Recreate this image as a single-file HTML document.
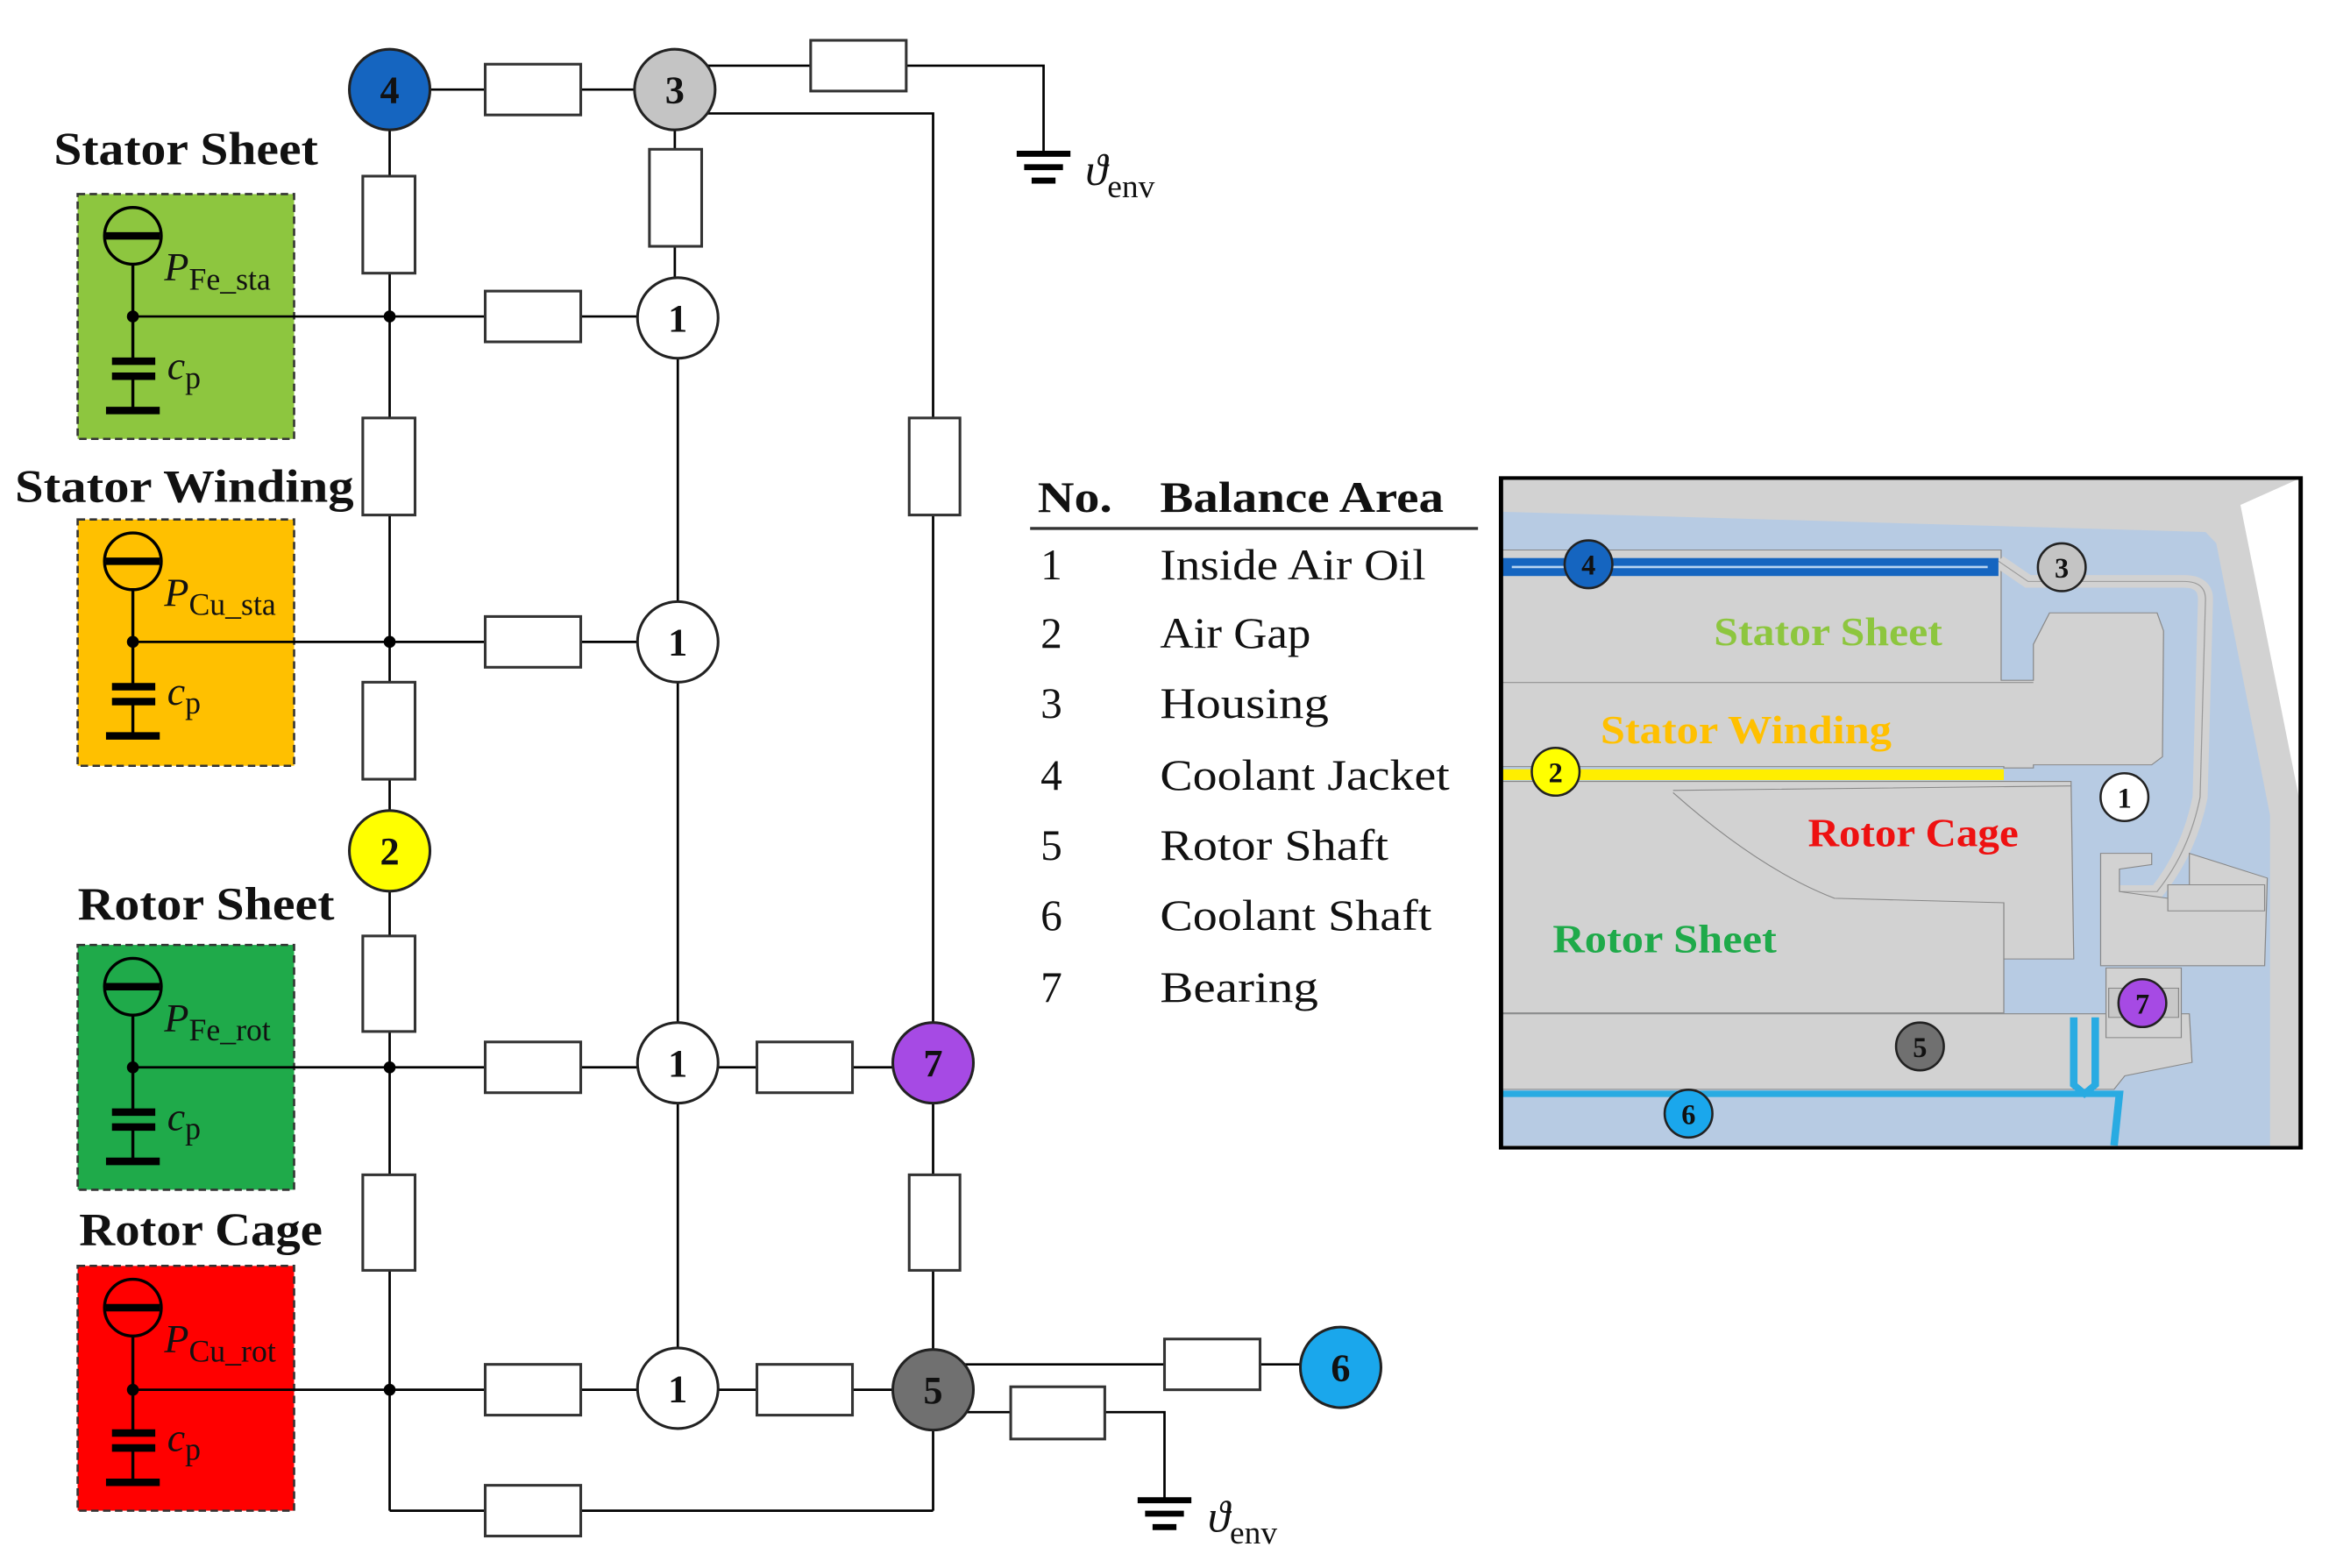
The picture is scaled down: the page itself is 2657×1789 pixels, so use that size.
<!DOCTYPE html>
<html><head><meta charset="utf-8"><style>
html,body{margin:0;padding:0;background:#fff;}
svg{display:block;}
text{font-family:"Liberation Serif",serif;}
</style></head><body>
<svg width="2657" height="1789" viewBox="0 0 1560 1050.4" preserveAspectRatio="none" xmlns="http://www.w3.org/2000/svg">
<rect x="0" y="0" width="1560" height="1051" fill="#fff"/>

<g stroke="#333" stroke-width="1.5" stroke-dasharray="5,3">
<rect x="52" y="130" width="145" height="164" fill="#8dc63f"/>
<rect x="52" y="348" width="145" height="165" fill="#ffc000"/>
<rect x="52" y="633" width="145" height="164" fill="#1faa4a"/>
<rect x="52" y="848" width="145" height="164" fill="#ff0000"/>
</g>

<g stroke="#000" fill="none">
<g id="s1">
<circle cx="89" cy="158" r="19" stroke-width="2"/>
<line x1="71" y1="158" x2="107" y2="158" stroke-width="5"/>
<line x1="89" y1="177" x2="89" y2="242" stroke-width="2"/>
<line x1="75" y1="242" x2="104" y2="242" stroke-width="5"/>
<line x1="75" y1="252" x2="104" y2="252" stroke-width="5"/>
<line x1="89" y1="252" x2="89" y2="275" stroke-width="2"/>
<line x1="71" y1="275" x2="107" y2="275" stroke-width="5"/>
</g>
<use href="#s1" y="218"/>
<use href="#s1" y="503"/>
<use href="#s1" y="718"/>
</g>

<g stroke="#000" stroke-width="1.6" fill="none">
<line x1="89" y1="212" x2="454" y2="212"/>
<line x1="89" y1="430" x2="454" y2="430"/>
<line x1="89" y1="715" x2="625" y2="715"/>
<line x1="89" y1="931" x2="625" y2="931"/>
<line x1="261" y1="60" x2="452" y2="60"/>
<line x1="261" y1="60" x2="261" y2="1012"/>
<line x1="261" y1="1012" x2="625" y2="1012"/>
<line x1="625" y1="1012" x2="625" y2="931"/>
<line x1="452" y1="60" x2="452" y2="213"/>
<line x1="454" y1="213" x2="454" y2="931"/>
<polyline points="452,44 699,44 699,103"/>
<polyline points="470,76 625,76 625,931"/>
<line x1="625" y1="914" x2="898" y2="914"/>
<polyline points="625,946 780,946 780,1005"/>
</g>
<g stroke="#000" stroke-width="4">
<line x1="681" y1="103" x2="717" y2="103"/>
<line x1="686" y1="112" x2="712" y2="112"/>
<line x1="691" y1="121" x2="707" y2="121"/>
<line x1="762" y1="1005" x2="798" y2="1005"/>
<line x1="767" y1="1014" x2="793" y2="1014"/>
<line x1="772" y1="1023" x2="788" y2="1023"/>
</g>
<g fill="#000">
<circle cx="89" cy="212" r="4"/><circle cx="261" cy="212" r="4"/>
<circle cx="89" cy="430" r="4"/><circle cx="261" cy="430" r="4"/>
<circle cx="89" cy="715" r="4"/><circle cx="261" cy="715" r="4"/>
<circle cx="89" cy="931" r="4"/><circle cx="261" cy="931" r="4"/>
</g>

<g fill="#fff" stroke="#333" stroke-width="1.8">
<rect x="325" y="43" width="64" height="34"/>
<rect x="543" y="27" width="64" height="34"/>
<rect x="325" y="195" width="64" height="34"/>
<rect x="325" y="413" width="64" height="34"/>
<rect x="325" y="698" width="64" height="34"/>
<rect x="325" y="914" width="64" height="34"/>
<rect x="325" y="995" width="64" height="34"/>
<rect x="507" y="698" width="64" height="34"/>
<rect x="507" y="914" width="64" height="34"/>
<rect x="780" y="897" width="64" height="34"/>
<rect x="677" y="929" width="63" height="35"/>
<rect x="243" y="118" width="35" height="65"/>
<rect x="243" y="280" width="35" height="65"/>
<rect x="243" y="457" width="35" height="65"/>
<rect x="243" y="627" width="35" height="64"/>
<rect x="243" y="787" width="35" height="64"/>
<rect x="435" y="100" width="35" height="65"/>
<rect x="609" y="280" width="34" height="65"/>
<rect x="609" y="787" width="34" height="64"/>
</g>

<g stroke="#222" stroke-width="1.8">
<circle cx="261" cy="60" r="27" fill="#1565c0"/>
<circle cx="452" cy="60" r="27" fill="#c4c4c4"/>
<circle cx="454" cy="213" r="27" fill="#fff"/>
<circle cx="454" cy="430" r="27" fill="#fff"/>
<circle cx="261" cy="570" r="27" fill="#ffff00"/>
<circle cx="454" cy="712" r="27" fill="#fff"/>
<circle cx="625" cy="712" r="27" fill="#a64ae4"/>
<circle cx="454" cy="930" r="27" fill="#fff"/>
<circle cx="625" cy="931" r="27" fill="#707070"/>
<circle cx="898" cy="916" r="27" fill="#1aa7ec"/>
</g>
<g font-weight="bold" font-size="26" text-anchor="middle" fill="#111">
<text x="261" y="69">4</text><text x="452" y="69">3</text>
<text x="454" y="222">1</text><text x="454" y="439">1</text>
<text x="261" y="579">2</text><text x="454" y="721">1</text>
<text x="625" y="721">7</text><text x="454" y="939">1</text>
<text x="625" y="940">5</text><text x="898" y="925">6</text>
</g>

<g font-weight="bold" font-size="31" fill="#111" lengthAdjust="spacingAndGlyphs">
<text x="36" y="110" textLength="177" lengthAdjust="spacingAndGlyphs">Stator Sheet</text>
<text x="10" y="336" textLength="227" lengthAdjust="spacingAndGlyphs">Stator Winding</text>
<text x="52" y="616" textLength="172" lengthAdjust="spacingAndGlyphs">Rotor Sheet</text>
<text x="53" y="834" textLength="163" lengthAdjust="spacingAndGlyphs">Rotor Cage</text>
</g>
<g font-size="27" fill="#111">
<text x="110" y="188"><tspan font-style="italic">P</tspan><tspan font-size="21" dy="6">Fe_sta</tspan></text>
<text x="110" y="406"><tspan font-style="italic">P</tspan><tspan font-size="21" dy="6">Cu_sta</tspan></text>
<text x="110" y="691"><tspan font-style="italic">P</tspan><tspan font-size="21" dy="6">Fe_rot</tspan></text>
<text x="110" y="906"><tspan font-style="italic">P</tspan><tspan font-size="21" dy="6">Cu_rot</tspan></text>
<text x="112" y="254"><tspan font-style="italic">c</tspan><tspan font-size="21" dy="6">p</tspan></text>
<text x="112" y="472"><tspan font-style="italic">c</tspan><tspan font-size="21" dy="6">p</tspan></text>
<text x="112" y="757"><tspan font-style="italic">c</tspan><tspan font-size="21" dy="6">p</tspan></text>
<text x="112" y="972"><tspan font-style="italic">c</tspan><tspan font-size="21" dy="6">p</tspan></text>
<text x="727" y="124" font-size="30"><tspan font-style="italic">ϑ</tspan><tspan font-size="22" dy="8">env</tspan></text>
<text x="809" y="1026" font-size="30"><tspan font-style="italic">ϑ</tspan><tspan font-size="22" dy="8">env</tspan></text>
</g>

<g font-size="29" fill="#111">
<text x="695" y="343" font-weight="bold" textLength="50" lengthAdjust="spacingAndGlyphs">No.</text>
<text x="777" y="343" font-weight="bold" textLength="190" lengthAdjust="spacingAndGlyphs">Balance Area</text>
<line x1="690" y1="354" x2="990" y2="354" stroke="#333" stroke-width="2"/>
<text x="697" y="388">1</text><text x="777" y="388" textLength="178" lengthAdjust="spacingAndGlyphs">Inside Air Oil</text>
<text x="697" y="434">2</text><text x="777" y="434" textLength="101" lengthAdjust="spacingAndGlyphs">Air Gap</text>
<text x="697" y="481">3</text><text x="777" y="481" textLength="113" lengthAdjust="spacingAndGlyphs">Housing</text>
<text x="697" y="529">4</text><text x="777" y="529" textLength="194" lengthAdjust="spacingAndGlyphs">Coolant Jacket</text>
<text x="697" y="576">5</text><text x="777" y="576" textLength="153" lengthAdjust="spacingAndGlyphs">Rotor Shaft</text>
<text x="697" y="623">6</text><text x="777" y="623" textLength="182" lengthAdjust="spacingAndGlyphs">Coolant Shaft</text>
<text x="697" y="671">7</text><text x="777" y="671" textLength="106" lengthAdjust="spacingAndGlyphs">Bearing</text>
</g>

<g transform="translate(998.2,311.2) scale(0.3602,0.3011)">
<rect x="20" y="30" width="1487" height="1490" fill="#d2d2d2"/>
<polygon points="1395,90 1507,760 1507,30" fill="#fff"/>
<polygon points="20,105 1330,150 1350,175 1450,780 1450,1515 20,1515" fill="#b7cbe3"/>
<polygon points="20,190 950,190 950,480 1010,480 1010,400 1040,330 1240,330 1252,370 1250,650 1230,668 1010,668 1010,675 955,675 955,672 20,672" fill="#d2d2d2" stroke="#888" stroke-width="2"/>
<line x1="20" y1="485" x2="1010" y2="485" stroke="#888" stroke-width="2"/>
<path d="M945,215 L1000,260 L1290,260 Q1330,260 1330,300 L1320,740 Q1300,860 1240,950 L1170,950" fill="none" stroke="#d2d2d2" stroke-width="28"/>
<path d="M945,215 L1000,260 L1290,260 Q1330,260 1330,300 L1320,740 Q1300,860 1240,950 L1170,950" fill="none" stroke="#999" stroke-width="2"/>
<rect x="20" y="208" width="925" height="40" fill="#1565c0"/>
<line x1="40" y1="228" x2="925" y2="228" stroke="#b7d4f0" stroke-width="5"/>
<rect x="20" y="678" width="935" height="24" fill="#ffee00"/>
<polygon points="20,705 1080,705 1085,1100 955,1100 955,1220 20,1220" fill="#d2d2d2" stroke="#888" stroke-width="2"/>
<path d="M340,725 L1080,715 M340,730 Q500,900 640,965 L955,975 L955,1100" fill="none" stroke="#888" stroke-width="2"/>
<polygon points="20,1222 1300,1222 1305,1330 1180,1360 1160,1390 20,1390" fill="#d2d2d2" stroke="#888" stroke-width="2"/>
<polygon points="1135,865 1230,865 1230,890 1170,900 1170,950 1260,965 1260,935 1300,935 1300,865 1445,920 1440,1115 1135,1115" fill="#d2d2d2" stroke="#888" stroke-width="2"/>
<rect x="1260" y="935" width="180" height="58" fill="#d2d2d2" stroke="#888" stroke-width="2"/>
<rect x="1145" y="1120" width="140" height="155" fill="#d2d2d2" stroke="#888" stroke-width="2"/>
<rect x="1150" y="1165" width="130" height="65" fill="#c8c8c8" stroke="#888" stroke-width="2"/>
<path d="M20,1400 L1170,1400 L1160,1515 M1085,1230 L1085,1380 L1105,1400 L1125,1380 L1125,1230" fill="none" stroke="#29abe2" stroke-width="14"/>
<rect x="20" y="30" width="1487" height="1490" fill="none" stroke="#000" stroke-width="8"/>
</g>
<g stroke="#222" stroke-width="1.5">
<circle cx="1064" cy="378" r="16" fill="#1565c0"/>
<circle cx="1381" cy="380" r="16" fill="#c4c4c4"/>
<circle cx="1042" cy="517" r="16" fill="#ffff00"/>
<circle cx="1423" cy="534" r="16" fill="#fff"/>
<circle cx="1435" cy="672" r="16" fill="#a64ae4"/>
<circle cx="1286" cy="701" r="16" fill="#707070"/>
<circle cx="1131" cy="746" r="16" fill="#1aa7ec"/>
</g>
<g font-weight="bold" font-size="19" text-anchor="middle" fill="#111">
<text x="1064" y="385">4</text><text x="1381" y="387">3</text>
<text x="1042" y="524">2</text><text x="1423" y="541">1</text>
<text x="1435" y="679">7</text><text x="1286" y="708">5</text>
<text x="1131" y="753">6</text>
</g>
<g font-weight="bold" font-size="27">
<text x="1148" y="432" fill="#8dc63f" textLength="153" lengthAdjust="spacingAndGlyphs">Stator Sheet</text>
<text x="1072" y="498" fill="#ffc000" textLength="195" lengthAdjust="spacingAndGlyphs">Stator Winding</text>
<text x="1211" y="567" fill="#ee1111" textLength="141" lengthAdjust="spacingAndGlyphs">Rotor Cage</text>
<text x="1040" y="638" fill="#1faa4a" textLength="150" lengthAdjust="spacingAndGlyphs">Rotor Sheet</text>
</g>
</svg>
</body></html>
